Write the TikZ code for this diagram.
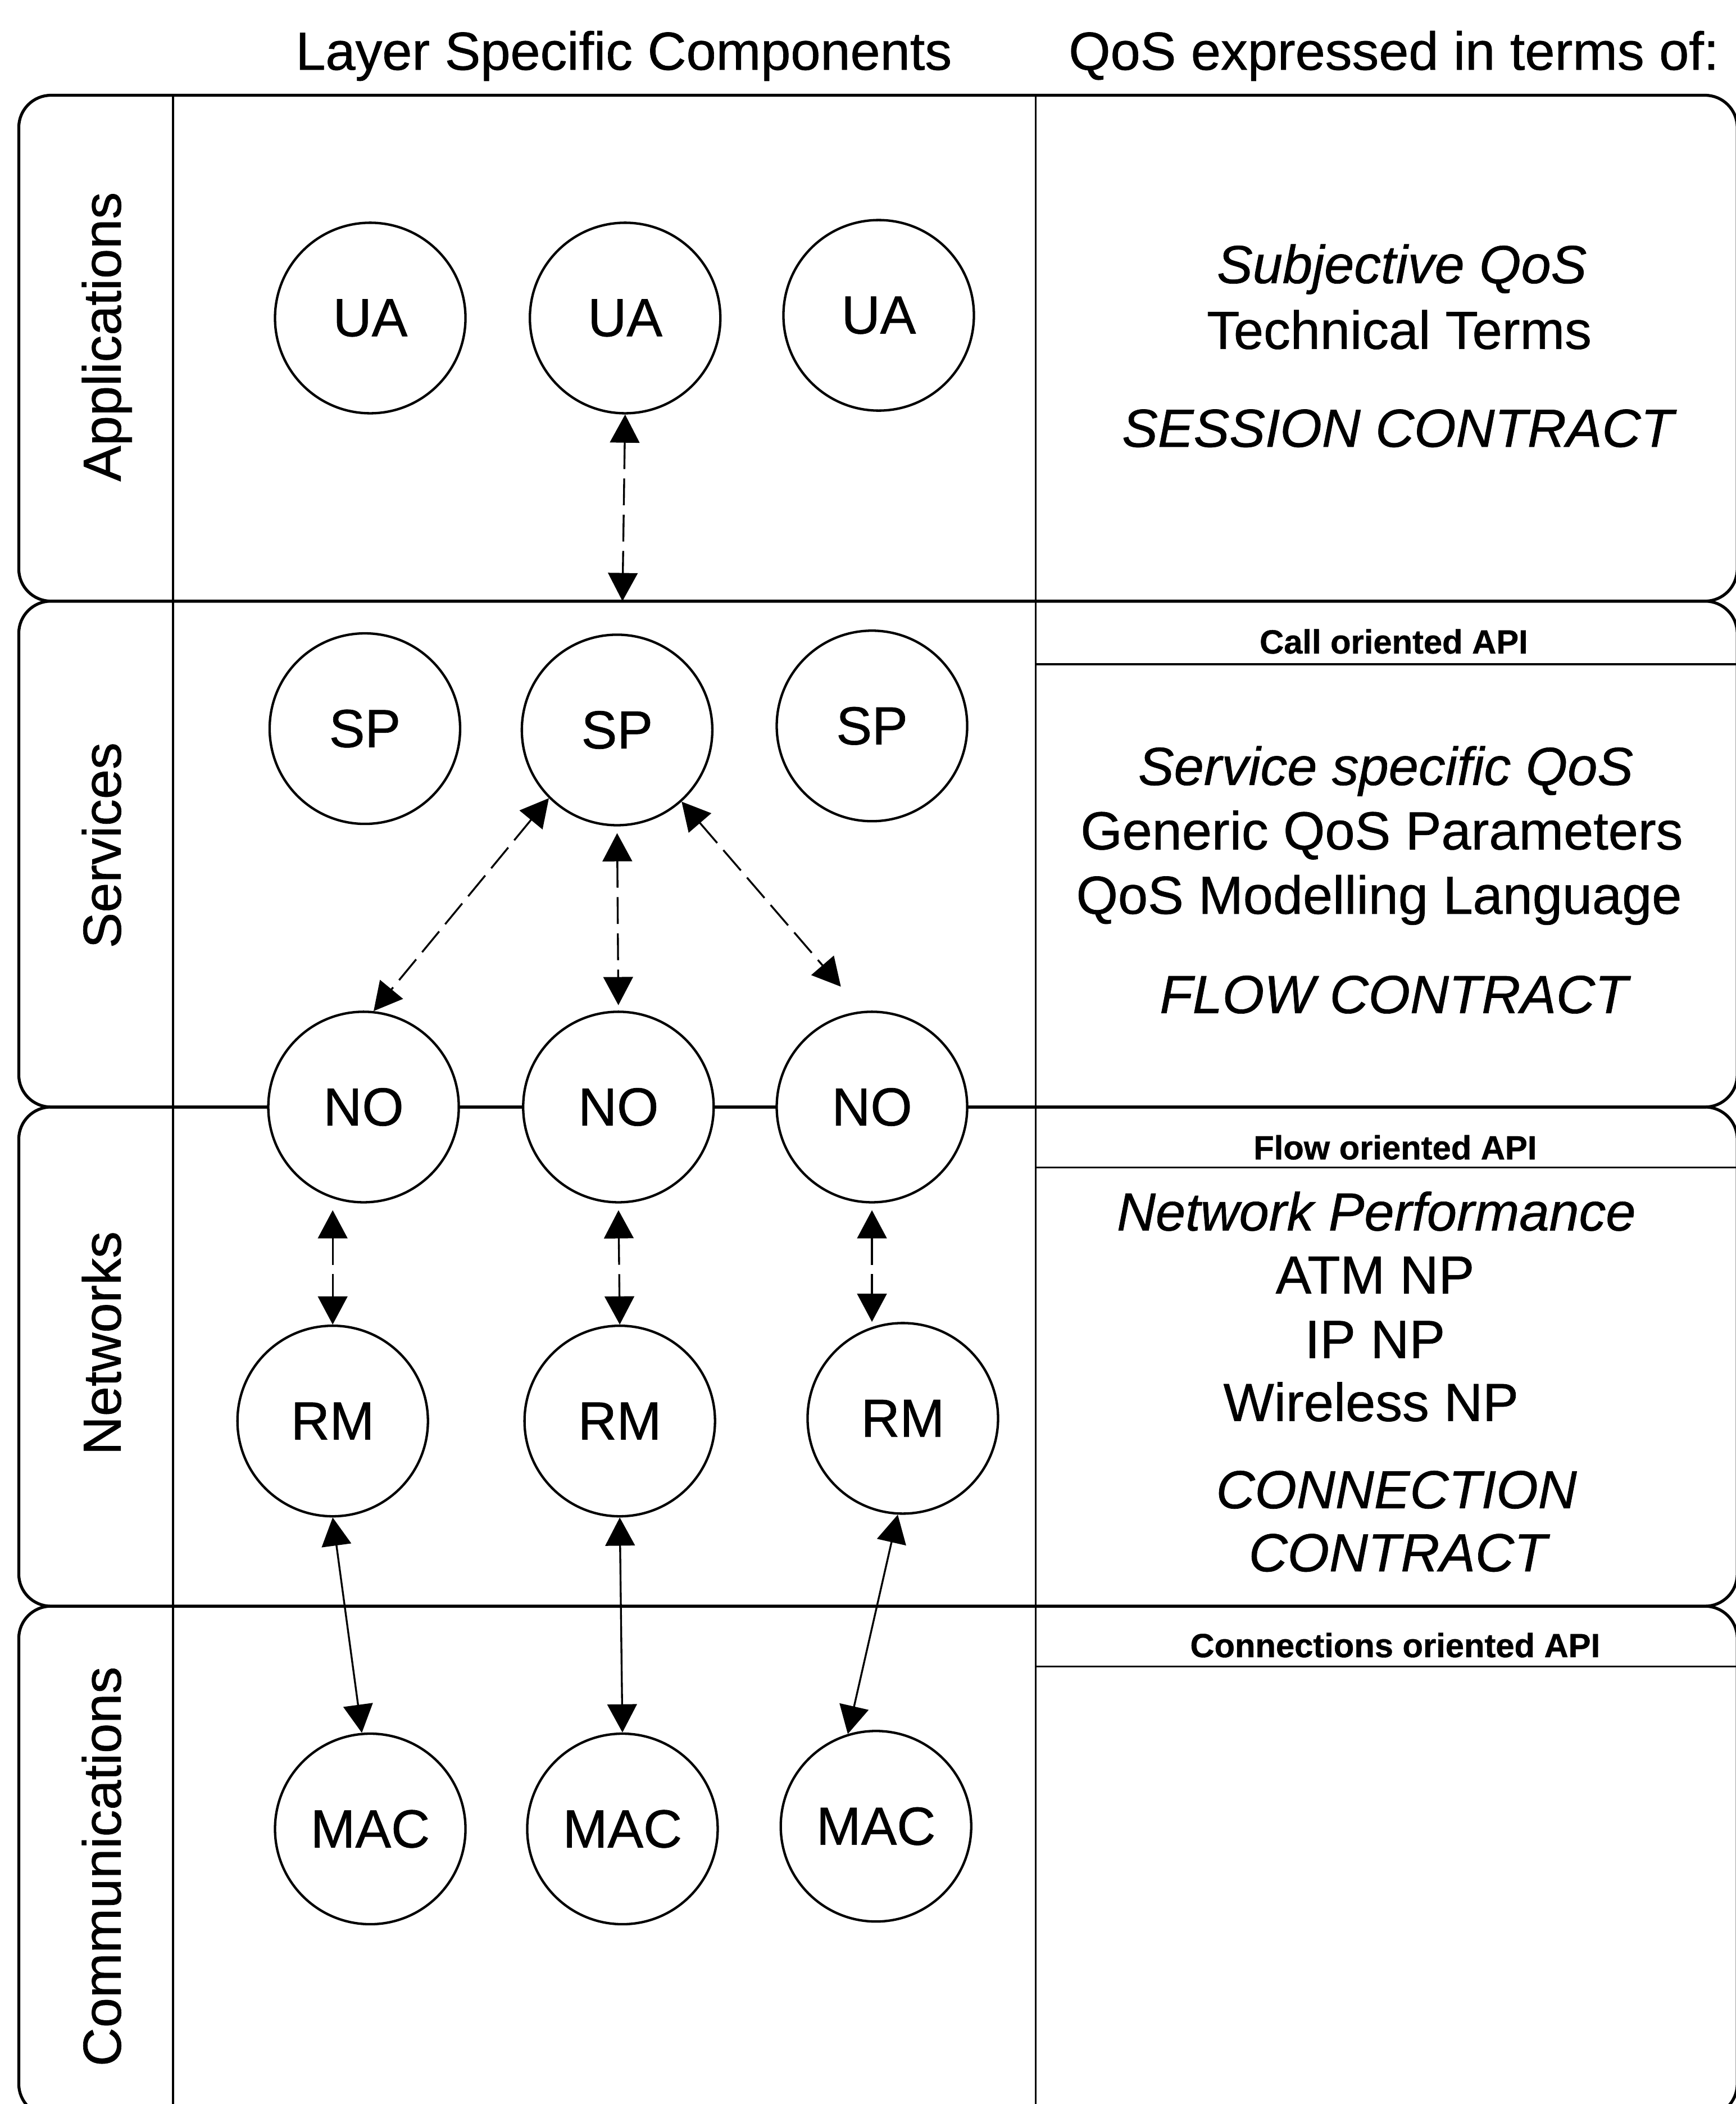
\documentclass[tikz,border=0pt]{standalone}
\usepackage{fontspec}
\setmainfont{Liberation Sans}[FakeBold=0.7]
\usetikzlibrary{arrows.meta, positioning}

\begin{document}
\begin{tikzpicture}[
    x=1pt, y=-1pt,
    band/.style={draw, line width=2.2pt, rounded corners=24pt},
    sep/.style={draw, line width=1.4pt},
    comp/.style={circle, draw, line width=1.8pt, fill=white, minimum size=142pt, inner sep=0pt, font=\fontsize{40}{48}\selectfont},
    head/.style={anchor=base, font=\fontsize{40}{48}\selectfont},
    layer/.style={rotate=90, anchor=base, font=\fontsize{40}{48}\selectfont},
    qos/.style={anchor=base, font=\fontsize{40}{48}\selectfont},
    api/.style={anchor=base, font=\fontsize{25}{30}\selectfont\bfseries},
    link/.style={draw, line width=1.4pt, dash pattern=on 20pt off 7pt, {Triangle[length=21pt,width=22pt]}-{Triangle[length=21pt,width=22pt]}},
    wire/.style={draw, line width=1.4pt, {Triangle[length=21pt,width=22pt]}-{Triangle[length=21pt,width=22pt]}}
]
    \useasboundingbox (0,0) rectangle (1294,1568);

    % Layers
    \draw [band] (14,71) rectangle (1295,448);
    \draw [band] (14,448) rectangle (1295,825);
    \draw [band] (14,825) rectangle (1295,1197);
    \draw [band] (14,1197) rectangle (1295,1577);
    \draw [sep] (129,71) -- (129,1577);
    \draw [sep] (772,71) -- (772,1577);
    \draw [sep] (772,495) -- (1295,495);
    \draw [sep] (772,870) -- (1295,870);
    \draw [sep] (772,1242) -- (1295,1242);

    % Headings
    \node (hcomp) [head] at (465,52) {Layer Specific Components};
    \node (hqos) [head] at (1039,52) {QoS expressed in terms of:};

    \node (lapp) [layer] at (90,251) {Applications};
    \node (lsvc) [layer] at (90,630) {Services};
    \node (lnet) [layer] at (90,1001) {Networks};
    \node (lcom) [layer] at (90,1391) {Communications};

    % QoS terms
    \node (subj) [qos] at (1045,211) {\itshape Subjective QoS};
    \node (tech) [qos] at (1043,260) {Technical Terms};
    \node (sess) [qos] at (1042,333) {\itshape SESSION CONTRACT};
    \node (callapi) [api] at (1039,487) {Call oriented API};
    \node (svcq) [qos] at (1033,585) {\itshape Service specific QoS};
    \node (gen) [qos] at (1030,633) {Generic QoS Parameters};
    \node (model) [qos] at (1028,681) {QoS Modelling Language};
    \node (flow) [qos] at (1039,755) {\itshape FLOW CONTRACT};
    \node (flowapi) [api] at (1040,864) {Flow oriented API};
    \node (netp) [qos] at (1026,917) {\itshape Network Performance};
    \node (atm) [qos] at (1025,964) {ATM NP};
    \node (ip) [qos] at (1025,1012) {IP NP};
    \node (wless) [qos] at (1022,1059) {Wireless NP};
    \node (conn) [qos] at (1041,1124) {\itshape CONNECTION};
    \node (contr) [qos] at (1042,1171) {\itshape CONTRACT};
    \node (connapi) [api] at (1040,1235) {Connections oriented API};

    % Components
    \node (ua1) [comp] at (276,237) {UA};
    \node (ua2) [comp] at (466,237) {UA};
    \node (ua3) [comp] at (655,235) {UA};
    \node (sp1) [comp] at (272,543) {SP};
    \node (sp2) [comp] at (460,544) {SP};
    \node (sp3) [comp] at (650,541) {SP};
    \node (no1) [comp] at (271,825) {NO};
    \node (no2) [comp] at (461,825) {NO};
    \node (no3) [comp] at (650,825) {NO};
    \node (rm1) [comp] at (248,1059) {RM};
    \node (rm2) [comp] at (462,1059) {RM};
    \node (rm3) [comp] at (673,1057) {RM};
    \node (mac1) [comp] at (276,1363) {MAC};
    \node (mac2) [comp] at (464,1363) {MAC};
    \node (mac3) [comp] at (653,1361) {MAC};
    \coordinate (appsvc) at (464,448);

    % Connections
    \draw [link] (ua2.south) -- (appsvc);
    \draw [link] (sp2.225) -- (no1.84);
    \draw [link, shorten <=5pt, shorten >=4pt] (sp2.south) -- (no2.north);
    \draw [link, shorten >=24pt] (sp2.312) -- (no3.96);
    \draw [link, shorten <=5pt] (rm1 |- no1.south) -- (rm1.north);
    \draw [link, shorten <=5pt] (no2.south) -- (rm2.north);
    \draw [link, shorten <=5pt] (no3.south) -- (no3.south |- rm3.north);
    \draw [wire] (rm1.south) -- (mac1.95);
    \draw [wire] (rm2.south) -- (mac2.north);
    \draw [wire] (rm3.267) -- (mac3.107);
\end{tikzpicture}
\end{document}
